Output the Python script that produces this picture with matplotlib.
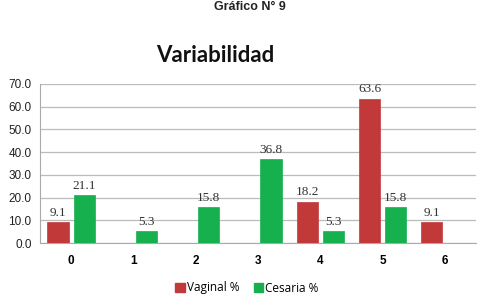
import matplotlib
matplotlib.use("Agg")
import matplotlib.pyplot as plt
import numpy as np
from matplotlib.patches import Patch

categories = ["0", "1", "2", "3", "4", "5", "6"]
vaginal = [9.1, None, None, None, 18.2, 63.6, 9.1]
cesarea = [21.1, 5.3, 15.8, 36.8, 5.3, 15.8, None]
series_names = ["Vaginal %", "Cesaria %"]
yticks = [0, 10, 20, 30, 40, 50, 60, 70]

red = "#C2393A"
green = "#17B04F"

fig = plt.figure(figsize=(4.95, 3.08), dpi=100)
ax = fig.add_axes([40/495, 1-243/308, 436/495, (243-84)/308])

x = np.arange(len(categories))
w = 0.34
off = 0.21
for vals, sign, col in [(vaginal, -1, red), (cesarea, 1, green)]:
    for i, v in enumerate(vals):
        if v is None:
            continue
        ax.bar(x[i] + sign*off, v, width=w, color=col, edgecolor=col, linewidth=0.5, zorder=3)
        ax.text(x[i] + sign*off, v + 1.5, f"{v:.1f}", ha="center", va="bottom",
                fontsize=9.5, family="Liberation Serif", color="#333333")

ax.set_xlim(-0.5, len(categories) - 0.5)
ax.set_ylim(0, 70)
ax.set_yticks(yticks)
ax.set_yticklabels([f"{t:.1f}" for t in yticks], fontsize=8.5, family="Liberation Sans", color="#222222")
ax.set_xticks(x)
ax.set_xticklabels(categories, fontsize=8.5, fontweight="bold", family="Liberation Sans")
ax.tick_params(axis="both", length=0, pad=6)
ax.tick_params(axis="x", pad=9)
ax.grid(axis="y", color="#BBBBBB", linewidth=0.9, zorder=0)
for s in ["top", "right"]:
    ax.spines[s].set_visible(False)
ax.spines["left"].set_color("#AAAAAA")
ax.spines["bottom"].set_color("#AAAAAA")

fig.text(250/495, 1 - 1/308, "Gráfico N° 9", ha="center", va="top",
         fontsize=9, fontweight="bold", family="Liberation Sans", color="#222222")
fig.text(215/495, 1 - 55/308, "Variabilidad", ha="center", va="center",
         fontsize=16, fontweight="bold", family="Lato", color="#111111")

handles = [Patch(facecolor=red, edgecolor=red), Patch(facecolor=green, edgecolor=green)]
fig.legend(handles, series_names, loc="center", bbox_to_anchor=(247/495, 1 - 288/308),
           ncol=2, frameon=False, handlelength=0.8, handleheight=0.8,
           handletextpad=0.2, columnspacing=1.2, prop={"family": "Open Sans", "size": 8.5})

fig.savefig("out.png", dpi=100)
